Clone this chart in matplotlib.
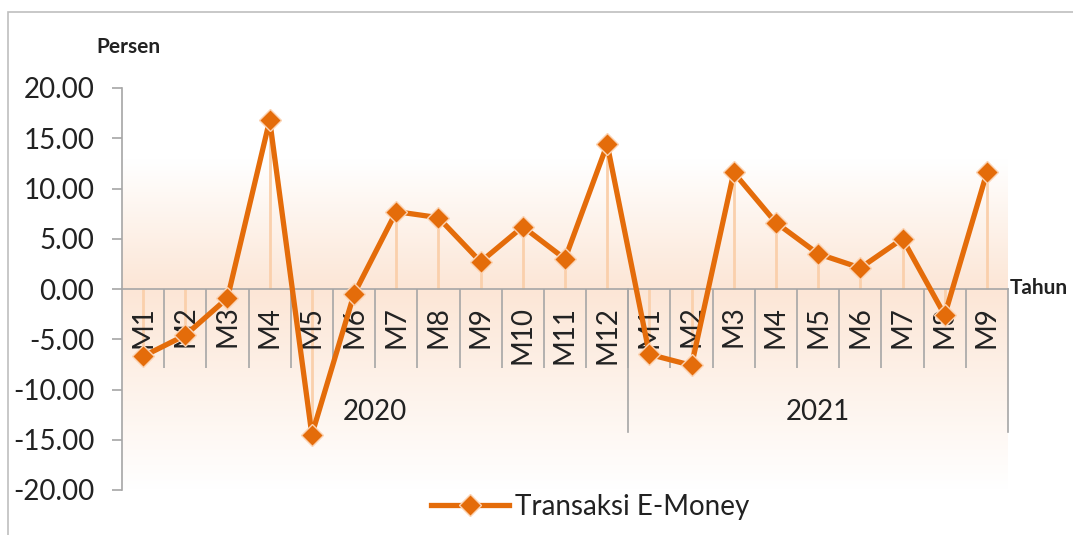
import numpy as np
import matplotlib
matplotlib.use('Agg')
import matplotlib.pyplot as plt
from matplotlib.colors import LinearSegmentedColormap
from matplotlib.patches import Rectangle

plt.rcParams['font.family'] = ['Lato', 'DejaVu Sans']
plt.rcParams['axes.unicode_minus'] = False

# data
months = ['M1','M2','M3','M4','M5','M6','M7','M8','M9','M10','M11','M12',
          'M1','M2','M3','M4','M5','M6','M7','M8','M9']
years = ['2020', '2021']
year_len = [12, 9]
emoney = [-6.7, -4.6, -0.9, 16.8, -14.5, -0.5, 7.7, 7.1, 2.7, 6.2, 3.0, 14.4,
          -6.5, -7.6, 11.6, 6.6, 3.5, 2.1, 5.0, -2.6, 11.6]
yticks = [20, 15, 10, 5, 0, -5, -10, -15, -20]

orange = '#E46C0A'
W, H = 1073, 535
fig = plt.figure(figsize=(W/100, H/100), dpi=100)
ax = fig.add_axes([122/W, 1-490/H, (1008-122)/W, (490-88)/H])

x = np.arange(len(months))
ax.set_xlim(-0.5, len(months)-0.5)
ax.set_ylim(-20, 20)

# background gradient (white -> peach at zero -> white)
cmap = LinearSegmentedColormap.from_list('bg', [(0, '#FFFFFF'), (0.5, '#FCE6D6'), (0.82, '#FFFFFF'), (1, '#FFFFFF')])
grad = np.linspace(0, 1, 256).reshape(-1, 1)
ax.imshow(grad, extent=[-0.5, len(months)-0.5, -20, 20], cmap=cmap, aspect='auto', zorder=0,
          origin='lower', vmin=0, vmax=1)

# drop lines
ax.vlines(x, 0, emoney, color='#FAD0AC', lw=2, zorder=1)

ax.plot(x, emoney, color=orange, lw=3.8, marker='D', ms=11, mfc=orange,
        mec='#FBD3B3', mew=1, zorder=5, clip_on=False, label='Transaksi E-Money')

# axes styling
for s in ['top', 'right']:
    ax.spines[s].set_visible(False)
ax.spines['left'].set_color('#A6A6A6')
ax.spines['left'].set_linewidth(1.2)
ax.spines['bottom'].set_position(('data', 0))
ax.spines['bottom'].set_color('#A6A6A6')
ax.spines['bottom'].set_linewidth(1.2)

ax.set_yticks(yticks)
ax.set_yticklabels(['%.2f' % v for v in yticks], fontsize=20, color='#222222')
ax.tick_params(axis='y', length=7, width=1.2, color='#A6A6A6', pad=13)

ax.set_xticks(x)
ax.set_xticklabels(months, rotation=90, fontsize=20, color='#222222')
ax.tick_params(axis='x', which='major', length=0, pad=12)
ax.set_xticks(np.arange(0.5, len(months)-0.5), minor=True)
ax.tick_params(axis='x', which='minor', length=57, width=1.2, color='#A6A6A6')

# year groups
start = 0
for yr, n in zip(years, year_len):
    ax.text(start + (n-1)/2, -12.2, yr, ha='center', va='center', fontsize=20, color='#222222')
    ax.plot([start+n-0.5, start+n-0.5], [0, -14.2], color='#A6A6A6', lw=1.2, clip_on=False, zorder=2)
    start += n

fig.text(128/W, 1-47/H, 'Persen', ha='center', va='center', fontsize=15, fontweight='bold', color='#222222')
fig.text(1010/W, 1-288/H, 'Tahun', ha='left', va='center', fontsize=15, fontweight='bold', color='#222222')

fig.legend(loc='center', bbox_to_anchor=(590/W, 1-507/H), frameon=False, fontsize=20,
           handlelength=2.8, handletextpad=0.2, labelcolor='#222222')

fig.patches.append(Rectangle((8/W, -0.1), 1.2, 1.1-12/H, transform=fig.transFigure,
                             fill=False, ec='#BFBFBF', lw=1.2))

fig.savefig('out.png', dpi=100)
